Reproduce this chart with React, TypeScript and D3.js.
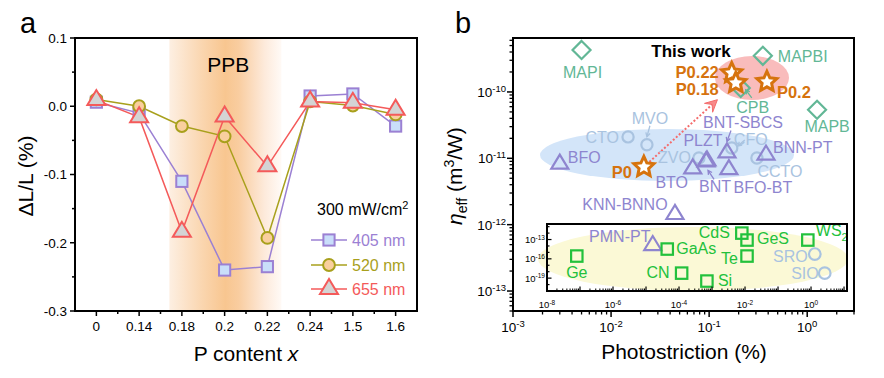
import React from "react";
import * as d3 from "d3";

// ---------------- Panel a data ----------------
const categories = ["0", "0.14", "0.18", "0.2", "0.22", "0.24", "1.5", "1.6"];
const s405 = [0.006, -0.01, -0.11, -0.24, -0.235, 0.015, 0.018, -0.029];
const s520 = [0.01, 0.0, -0.029, -0.044, -0.193, 0.007, 0.001, -0.012];
const s655 = [0.009, -0.016, -0.184, -0.015, -0.088, 0.007, 0.005, -0.005];
const yTicksA = [0.1, 0, -0.1, -0.2, -0.3];
const yTickLabelsA = ["0.1", "0.0", "-0.1", "-0.2", "-0.3"];
const legendLabels = ["405 nm", "520 nm", "655 nm"];
const ppbRange = ["0.18", "0.22"];

// ---------------- Panel b data ----------------
type Pt = { name: string; x: number; y: number };
const perovskites: Pt[] = [
  { name: "MAPI", x: 5.0e-3, y: 4.3e-10 },
  { name: "MAPBI", x: 0.353, y: 3.5e-10 },
  { name: "MAPB", x: 1.26, y: 5.4e-11 },
  { name: "CPB", x: 0.21, y: 1.15e-10 },
];
const thisWork: Pt[] = [
  { name: "P0", x: 0.0216, y: 7.4e-12 },
  { name: "P0.22", x: 0.17, y: 1.93e-10 },
  { name: "P0.18", x: 0.187, y: 1.37e-10 },
  { name: "P0.2", x: 0.388, y: 1.42e-10 },
];
const oxideCircles: Pt[] = [
  { name: "CTO", x: 0.0149, y: 2.1e-11 },
  { name: "MVO", x: 0.0232, y: 1.6e-11 },
  { name: "ZVO", x: 0.0787, y: 1.01e-11 },
  { name: "CFO", x: 0.17, y: 1.43e-11 },
  { name: "CCTO", x: 0.307, y: 1.01e-11 },
];
const ferroTriangles: Pt[] = [
  { name: "BFO", x: 3.0e-3, y: 8.6e-12 },
  { name: "PLZT", x: 0.095, y: 9.6e-12 },
  { name: "BNT", x: 0.093, y: 9.3e-12 },
  { name: "BTO", x: 0.068, y: 7.3e-12 },
  { name: "BNT-SBCS", x: 0.152, y: 1.27e-11 },
  { name: "BFO-BT", x: 0.159, y: 7.1e-12 },
  { name: "BNN-PT", x: 0.38, y: 1.18e-11 },
  { name: "KNN-BNNO", x: 0.0448, y: 1.5e-12 },
];
const insetSquares: Pt[] = [
  { name: "Ge", x: 8e-8, y: 2.7e-16 },
  { name: "GaAs", x: 4.4e-5, y: 3.3e-15 },
  { name: "CN", x: 1.2e-4, y: 6e-19 },
  { name: "Si", x: 7e-4, y: 3.5e-20 },
  { name: "CdS", x: 8e-3, y: 1e-12 },
  { name: "GeS", x: 1.15e-2, y: 8.3e-14 },
  { name: "Te", x: 1.15e-2, y: 2.7e-16 },
  { name: "WS2", x: 0.8, y: 8.3e-14 },
];
const insetTriangles: Pt[] = [{ name: "PMN-PT", x: 1.6e-5, y: 2e-14 }];
const insetCircles: Pt[] = [
  { name: "SRO", x: 1.3, y: 5.5e-16 },
  { name: "SIO", x: 2.6, y: 6e-19 },
];
const xTicksB = [1e-3, 1e-2, 1e-1, 1];
const xTickExpB = ["-3", "-2", "-1", "0"];
const yTicksB = [1e-13, 1e-12, 1e-11, 1e-10];
const yTickExpB = ["-13", "-12", "-11", "-10"];
const insetXTicks = [1e-8, 1e-6, 1e-4, 1e-2, 1];
const insetXExp = ["-8", "-6", "-4", "-2", "0"];
const insetYTicks = [1e-19, 1e-16, 1e-13];
const insetYExp = ["-19", "-16", "-13"];

// label placement (style)
const labelPos: Record<string, [number, number, string]> = {
  MAPI: [1, 22, "middle"], MAPBI: [15, 0, "start"], MAPB: [10, 17, "middle"], CPB: [12, 19, "middle"],
  P0: [-12, 5, "end"], "P0.22": [-13, -1, "end"], "P0.18": [-17, 6, "end"], "P0.2": [10, 10, "start"],
  CTO: [-9, 0, "end"], MVO: [3, -27, "middle"], ZVO: [-8, -1, "end"], CFO: [19, -9, "middle"], CCTO: [23, 13, "middle"],
  BFO: [8, -5, "start"], PLZT: [-4, -19, "middle"], BNT: [9, 26, "middle"], BTO: [-21, 15, "middle"],
  "BNT-SBCS": [16, -29, "middle"], "BFO-BT": [34, 19, "middle"], "BNN-PT": [7, -6, "start"], "KNN-BNNO": [-50, -9, "middle"],
  Ge: [0, 16, "middle"], GaAs: [9, -1, "start"], CN: [-12, -1, "end"], Si: [11, -1, "start"], CdS: [-12, -1, "end"],
  GeS: [10, -2, "start"], Te: [-9, 2, "end"], WS2: [8, -10, "start"], "PMN-PT": [-33, -8, "middle"],
  SRO: [-7, 2, "end"], SIO: [-6, 0, "end"],
};
const arrowPos: Record<string, [number, number, number, number]> = {
  MVO: [3, -19, 0, -8], CFO: [13, -8, 6, -2], "BNT-SBCS": [4, -21, 0, -10], BNT: [8, 19, 2, 10], CPB: [11, 10, 5, 2],
};

const FONT = "Arial, 'Liberation Sans', Helvetica, sans-serif";
const C = {
  purple: "#9b80d3", sqFill: "#c9defa", olive: "#a8a01c", cFill: "#f9cf9e", red: "#f45a5a", tFill: "#d4d4d4",
  teal: "#62b796", lblue: "#a9c3e0", tri: "#8e85cf", green: "#22c13c", orange: "#d6730e",
};

// scales
const A = { left: 75, right: 417, top: 38, bottom: 311 };
const xA = d3.scalePoint<string>().domain(categories).range([A.left, A.right]).padding(0.5);
const yA = d3.scaleLinear().domain([-0.3, 0.1]).range([A.bottom, A.top]);
const B = { left: 513, right: 854, top: 38, bottom: 311 };
const xB = d3.scaleLog().domain([1e-3, 3]).range([B.left, B.right]);
const yB = d3.scaleLog().domain([5e-14, 6.5e-10]).range([B.bottom, B.top]);
const I = { left: 547, right: 847, top: 224, bottom: 291 };
const xI = d3.scaleLog().domain([1e-8, 12.3]).range([I.left, I.right]);
const yI = d3.scaleLog().domain([1e-21, 2.6e-11]).range([I.bottom, I.top]);

function logMinors(domain: number[]) {
  const lo = Math.floor(Math.log10(domain[0]));
  const hi = Math.ceil(Math.log10(domain[1]));
  const out: number[] = [];
  for (let d = lo; d <= hi; d++)
    for (let k = 2; k <= 9; k++) {
      const v = k * Math.pow(10, d);
      if (v >= domain[0] * 0.999 && v <= domain[1] * 1.001) out.push(v);
    }
  return out;
}
function decades(domain: number[]) {
  const out: number[] = [];
  for (let d = Math.ceil(Math.log10(domain[0])); d <= Math.floor(Math.log10(domain[1])); d++) out.push(Math.pow(10, d));
  return out;
}
function starPath(cx: number, cy: number, R: number, r: number) {
  let p = "";
  for (let i = 0; i < 10; i++) {
    const a = -Math.PI / 2 + (i * Math.PI) / 5;
    const rad = i % 2 ? r : R;
    p += (i ? "L" : "M") + (cx + rad * Math.cos(a)).toFixed(2) + "," + (cy + rad * Math.sin(a)).toFixed(2);
  }
  return p + "Z";
}
const triPts = (cx: number, cy: number, hw: number, up: number, down: number) =>
  `${cx},${cy - up} ${cx - hw},${cy + down} ${cx + hw},${cy + down}`;
const diaPts = (cx: number, cy: number, r: number) => `${cx},${cy - r} ${cx + r},${cy} ${cx},${cy + r} ${cx - r},${cy}`;

function SmallArrow({ x1, y1, x2, y2, color }: any) {
  const a = Math.atan2(y2 - y1, x2 - x1);
  const L = 4.5;
  const p1 = [x2 - L * Math.cos(a - 0.5), y2 - L * Math.sin(a - 0.5)];
  const p2 = [x2 - L * Math.cos(a + 0.5), y2 - L * Math.sin(a + 0.5)];
  return (
    <g stroke={color} strokeWidth={1.3} fill="none">
      <line x1={x1} y1={y1} x2={x2} y2={y2} />
      <polyline points={`${p1[0]},${p1[1]} ${x2},${y2} ${p2[0]},${p2[1]}`} />
    </g>
  );
}

function Label({ p, sx, sy, color, size = 16, bold = false }: any) {
  const lp = labelPos[p.name];
  const x = sx(p.x) + lp[0];
  const y = sy(p.y) + lp[1];
  const ar = arrowPos[p.name];
  const isWS2 = p.name === "WS2";
  return (
    <g>
      {ar && (
        <SmallArrow x1={sx(p.x) + ar[0]} y1={sy(p.y) + ar[1]} x2={sx(p.x) + ar[2]} y2={sy(p.y) + ar[3]} color={color} />
      )}
      <text x={x} y={y} dy="0.36em" textAnchor={lp[2]} fill={color} fontSize={size} fontWeight={bold ? "bold" : "normal"} fontFamily={FONT}>
        {isWS2 ? (
          <>
            WS<tspan fontSize={11} dy={5}>2</tspan>
          </>
        ) : (
          p.name
        )}
      </text>
    </g>
  );
}

function PanelA() {
  const series = [
    { vals: s405, color: C.purple, fill: C.sqFill, shape: "sq" },
    { vals: s520, color: C.olive, fill: C.cFill, shape: "ci" },
    { vals: s655, color: C.red, fill: C.tFill, shape: "tr" },
  ];
  const line = d3
    .line<number>()
    .x((_, i) => xA(categories[i])!)
    .y((d) => yA(d));
  const marker = (shape: string, cx: number, cy: number, color: string, fill: string, key: any) => {
    if (shape === "sq") return <rect key={key} x={cx - 5.6} y={cy - 5.6} width={11.2} height={11.2} fill={fill} stroke={color} strokeWidth={2} />;
    if (shape === "ci") return <circle key={key} cx={cx} cy={cy} r={5.9} fill={fill} stroke={color} strokeWidth={2} />;
    return <polygon key={key} points={triPts(cx, cy, 9, 10, 5)} fill={fill} stroke={color} strokeWidth={2} strokeLinejoin="miter" />;
  };
  const step = xA.step();
  const bandL = xA(ppbRange[0])! - 12.5;
  const bandR = xA(ppbRange[1])! + 14;
  const minorY = d3.range(-0.3, 0.1001, 0.05).map((v) => +v.toFixed(3));
  const minorX = categories.slice(0, -1).map((c) => xA(c)! + step / 2);
  const legY = [240, 265, 289];
  return (
    <g fontFamily={FONT}>
      <defs>
        <linearGradient id="ppb" x1="0" x2="1" y1="0" y2="0">
          <stop offset="0" stopColor="#fdefe2" />
          <stop offset="0.3" stopColor="#fad5ae" />
          <stop offset="0.5" stopColor="#f8c690" />
          <stop offset="0.62" stopColor="#f9cda0" />
          <stop offset="0.85" stopColor="#fdeadb" />
          <stop offset="1" stopColor="#fffaf6" />
        </linearGradient>
      </defs>
      <rect x={bandL} y={A.top} width={bandR - bandL} height={A.bottom - A.top} fill="url(#ppb)" />
      <text x={(bandL + bandR) / 2 + 3} y={72} textAnchor="middle" fontSize={21}>PPB</text>
      {series.map((s, si) => (
        <path key={"l" + si} d={line(s.vals)!} fill="none" stroke={s.color} strokeWidth={1.5} />
      ))}
      {series.map((s, si) => s.vals.map((v, i) => marker(s.shape, xA(categories[i])!, yA(v), s.color, s.fill, si + "-" + i)))}
      {/* frame */}
      <rect x={A.left} y={A.top} width={A.right - A.left} height={A.bottom - A.top} fill="none" stroke="#000" strokeWidth={2} />
      {minorY.map((v, i) => (
        <line key={"my" + i} x1={A.left} x2={A.left - (Math.abs((v * 10) % 1) < 1e-6 ? 5 : 3)} y1={yA(v)} y2={yA(v)} stroke="#000" strokeWidth={1.5} />
      ))}
      {yTicksA.map((v, i) => (
        <text key={"yt" + i} x={67} y={yA(v)} dy="0.36em" textAnchor="end" fontSize={13.5}>
          {yTickLabelsA[i]}
        </text>
      ))}
      {categories.map((c) => (
        <g key={"xt" + c}>
          <line x1={xA(c)} x2={xA(c)} y1={A.bottom} y2={A.bottom + 5} stroke="#000" strokeWidth={1.5} />
          <text x={xA(c)} y={331} textAnchor="middle" fontSize={13.5}>{c}</text>
        </g>
      ))}
      {minorX.map((x, i) => (
        <line key={"mx" + i} x1={x} x2={x} y1={A.bottom} y2={A.bottom + 3} stroke="#000" strokeWidth={1.5} />
      ))}
      <text x={246} y={361} textAnchor="middle" fontSize={21}>
        P content <tspan fontStyle="italic">x</tspan>
      </text>
      <text transform="translate(33,176) rotate(-90)" textAnchor="middle" fontSize={21}>ΔL/L (%)</text>
      <text x={20} y={33} fontSize={29}>a</text>
      {/* legend */}
      <text x={317} y={215} fontSize={16}>
        300 mW/cm<tspan fontSize={11} dy={-6}>2</tspan>
      </text>
      {series.map((s, si) => (
        <g key={"lg" + si}>
          <line x1={311} x2={347} y1={legY[si]} y2={legY[si]} stroke={s.color} strokeWidth={1.5} />
          {marker(s.shape, 329, legY[si], s.color, s.fill, "lm" + si)}
          <text x={352} y={legY[si]} dy="0.36em" fontSize={16} fill={s.color}>{legendLabels[si]}</text>
        </g>
      ))}
    </g>
  );
}

function PanelB() {
  const p0 = thisWork.find((d) => d.name === "P0")!;
  const p18 = thisWork.find((d) => d.name === "P0.18")!;
  const ax0 = xB(p0.x), ay0 = yB(p0.y), ax1 = xB(p18.x), ay1 = yB(p18.y);
  const sx = ax0 + (ax1 - ax0) * 0.06, sy = ay0 + (ay1 - ay0) * 0.06;
  const ex = ax0 + (ax1 - ax0) * 0.8, ey = ay0 + (ay1 - ay0) * 0.8;
  const ang = Math.atan2(ey - sy, ex - sx);
  const headBase = [ex - 12 * Math.cos(ang), ey - 12 * Math.sin(ang)];
  const hp1 = [headBase[0] + 6 * Math.sin(ang), headBase[1] - 6 * Math.cos(ang)];
  const hp2 = [headBase[0] - 6 * Math.sin(ang), headBase[1] + 6 * Math.cos(ang)];
  const hn = [ex - 7 * Math.cos(ang), ey - 7 * Math.sin(ang)];
  const stars = ["P0", "P0.22", "P0.18", "P0.2"].map((n) => thisWork.find((d) => d.name === n)!);
  return (
    <g fontFamily={FONT}>
      {/* highlight ellipses */}
      <ellipse cx={667} cy={155} rx={127} ry={26} fill="#d3e5f9" />
      <ellipse cx={752} cy={78} rx={37} ry={22} fill="#f9bcbc" />
      <ellipse cx={693} cy={259} rx={155} ry={32} fill="#fbf9d6" />
      {/* dotted arrow */}
      <line x1={sx} y1={sy} x2={hn[0]} y2={hn[1]} stroke="#f46c6c" strokeWidth={2} strokeDasharray="2 2" />
      <polygon points={`${ex},${ey} ${hp1[0]},${hp1[1]} ${hn[0]},${hn[1]} ${hp2[0]},${hp2[1]}`} fill="#f88a8a" stroke="#f46c6c" strokeWidth={1} />
      {/* circles */}
      {oxideCircles.map((p) => (
        <circle key={p.name} cx={xB(p.x)} cy={yB(p.y)} r={5.6} fill="none" stroke={C.lblue} strokeWidth={2.2} />
      ))}
      {/* triangles */}
      {ferroTriangles.map((p) => (
        <polygon key={p.name} points={triPts(xB(p.x), yB(p.y), 8.5, 8, 6)} fill="none" stroke={C.tri} strokeWidth={2.2} />
      ))}
      {/* diamonds */}
      {perovskites.map((p) => (
        <polygon key={p.name} points={diaPts(xB(p.x), yB(p.y), 9)} fill="none" stroke={C.teal} strokeWidth={2.2} />
      ))}
      {/* stars */}
      {stars.map((p) => (
        <path key={p.name} d={starPath(xB(p.x), yB(p.y), 10.5, 5)} fill="#fff" stroke={C.orange} strokeWidth={3} strokeLinejoin="miter" />
      ))}
      {/* labels */}
      {oxideCircles.map((p) => <Label key={"l" + p.name} p={p} sx={xB} sy={yB} color={C.lblue} />)}
      {ferroTriangles.map((p) => <Label key={"l" + p.name} p={p} sx={xB} sy={yB} color={C.tri} />)}
      {perovskites.map((p) => <Label key={"l" + p.name} p={p} sx={xB} sy={yB} color={C.teal} />)}
      {stars.map((p) => <Label key={"l" + p.name} p={p} sx={xB} sy={yB} color={C.orange} bold size={16.5} />)}
      <text x={691} y={57} textAnchor="middle" fontSize={17} fontWeight="bold">This work</text>
      {/* inset */}
      {insetCircles.map((p) => (
        <circle key={p.name} cx={xI(p.x)} cy={yI(p.y)} r={5.8} fill="none" stroke={C.lblue} strokeWidth={2.2} />
      ))}
      {insetTriangles.map((p) => (
        <polygon key={p.name} points={triPts(xI(p.x), yI(p.y), 8.5, 8, 6)} fill="none" stroke={C.tri} strokeWidth={2.2} />
      ))}
      {insetSquares.map((p) => (
        <rect key={p.name} x={xI(p.x) - 5.7} y={yI(p.y) - 5.7} width={11.4} height={11.4} fill="none" stroke={C.green} strokeWidth={2.2} />
      ))}
      {insetCircles.map((p) => <Label key={"l" + p.name} p={p} sx={xI} sy={yI} color={C.lblue} />)}
      {insetTriangles.map((p) => <Label key={"l" + p.name} p={p} sx={xI} sy={yI} color={C.tri} />)}
      {insetSquares.map((p) => <Label key={"l" + p.name} p={p} sx={xI} sy={yI} color={C.green} />)}
      <rect x={I.left} y={I.top} width={I.right - I.left} height={I.bottom - I.top} fill="none" stroke="#000" strokeWidth={2} />
      {decades(xI.domain()).map((v, i) => (
        <line key={"ixd" + i} x1={xI(v)} x2={xI(v)} y1={I.bottom} y2={I.bottom - 4.5} stroke="#000" strokeWidth={1.2} />
      ))}
      {logMinors(xI.domain()).map((v, i) => (
        <line key={"ixm" + i} x1={xI(v)} x2={xI(v)} y1={I.bottom} y2={I.bottom - 2.5} stroke="#000" strokeWidth={1} />
      ))}
      {decades(yI.domain()).map((v, i) => (
        <line key={"iyd" + i} x1={I.left} x2={I.left + (insetYTicks.some((t) => Math.abs(Math.log10(t) - Math.log10(v)) < 0.01) ? 4.5 : 2.5)} y1={yI(v)} y2={yI(v)} stroke="#000" strokeWidth={1.2} />
      ))}
      {insetXTicks.map((v, i) => (
        <text key={"ixl" + i} x={xI(v)} y={308} textAnchor="middle" fontSize={9.5}>
          10<tspan fontSize={6.5} dy={-3.5}>{insetXExp[i]}</tspan>
        </text>
      ))}
      {insetYTicks.map((v, i) => (
        <text key={"iyl" + i} x={545} y={yI(v) + 3.5} textAnchor="end" fontSize={9.5}>
          10<tspan fontSize={6.5} dy={-3.5}>{insetYExp[i]}</tspan>
        </text>
      ))}
      {/* main frame and axes */}
      <rect x={B.left} y={B.top} width={B.right - B.left} height={B.bottom - B.top} fill="none" stroke="#000" strokeWidth={2} />
      {xTicksB.map((v, i) => (
        <g key={"xb" + i}>
          <line x1={xB(v)} x2={xB(v)} y1={B.bottom} y2={B.bottom + 6} stroke="#000" strokeWidth={1.5} />
          <text x={xB(v)} y={332} textAnchor="middle" fontSize={13.5}>
            10<tspan fontSize={9.5} dy={-5}>{xTickExpB[i]}</tspan>
          </text>
        </g>
      ))}
      {logMinors(xB.domain()).map((v, i) => (
        <line key={"xbm" + i} x1={xB(v)} x2={xB(v)} y1={B.bottom} y2={B.bottom + 3.5} stroke="#000" strokeWidth={1.3} />
      ))}
      {yTicksB.map((v, i) => (
        <g key={"yb" + i}>
          <line x1={B.left} x2={B.left - 6} y1={yB(v)} y2={yB(v)} stroke="#000" strokeWidth={1.5} />
          <text x={506} y={yB(v) + 5} textAnchor="end" fontSize={13.5}>
            10<tspan fontSize={9.5} dy={-5}>{yTickExpB[i]}</tspan>
          </text>
        </g>
      ))}
      {logMinors(yB.domain()).map((v, i) => (
        <line key={"ybm" + i} x1={B.left} x2={B.left - 3.5} y1={yB(v)} y2={yB(v)} stroke="#000" strokeWidth={1.3} />
      ))}
      <text x={684} y={359} textAnchor="middle" fontSize={21}>Photostriction (%)</text>
      <text transform="translate(462,176) rotate(-90)" textAnchor="middle" fontSize={21}>
        <tspan fontStyle="italic">η</tspan>
        <tspan fontSize={14} dy={5}>eff</tspan>
        <tspan dy={-5}> (m</tspan>
        <tspan fontSize={14} dy={-8}>3</tspan>
        <tspan dy={8}>/W)</tspan>
      </text>
      <text x={455} y={33} fontSize={29}>b</text>
    </g>
  );
}

export default function App() {
  return (
    <svg width={884} height={378} viewBox="0 0 884 378" style={{ position: "absolute", left: 0, top: 0, background: "#fff" }}>
      <rect width={884} height={378} fill="#fff" />
      <PanelA />
      <PanelB />
    </svg>
  );
}
